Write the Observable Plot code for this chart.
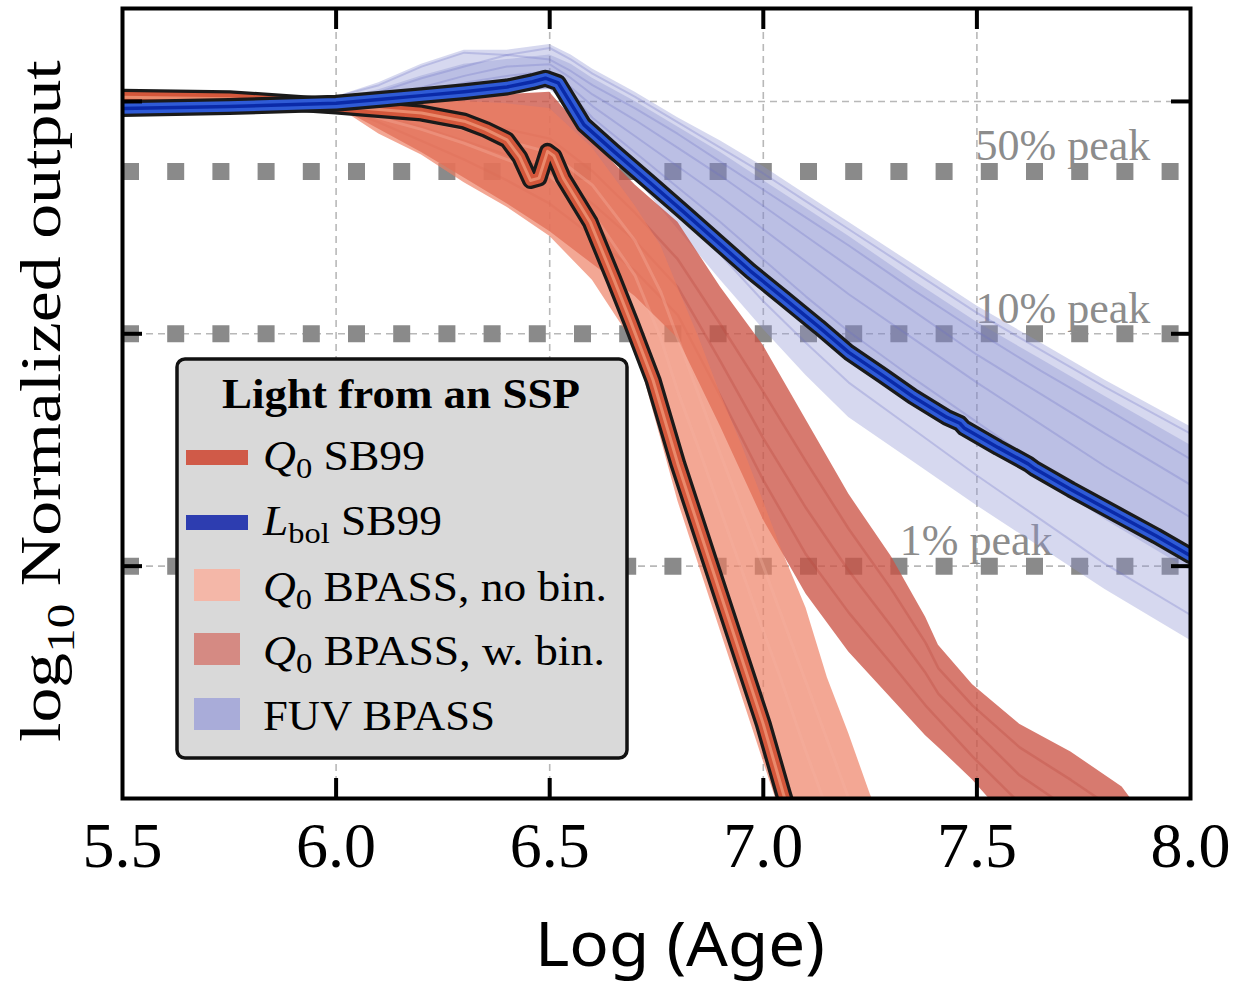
<!DOCTYPE html>
<html><head><meta charset="utf-8">
<script src="https://cdn.jsdelivr.net/npm/d3@7"></script>
<script src="https://cdn.jsdelivr.net/npm/@observablehq/plot@0.6"></script>
<style>
body{margin:0;background:#fff;}
#chart{position:absolute;left:0;top:0;}
</style></head><body><div id="chart"></div>
<script>
// ---------- axis / reference data ----------
const xTickAges = [5.5, 6.0, 6.5, 7.0, 7.5, 8.0];
const innerTickAges = [6.0, 6.5, 7.0, 7.5];
const gridLevels = [0, -1, -2];
const peakLevels = [-0.301, -1, -2];
const peakLabels = ["50% peak", "10% peak", "1% peak"];
const peakLabelAge = [7.906, 7.906, 7.677];

// ---------- Q0 SB99 ----------
const q0sbAge = [5.5, 5.75, 6.0, 6.1, 6.2, 6.3, 6.35, 6.4, 6.43, 6.455, 6.475, 6.495, 6.51, 6.532, 6.595, 6.65, 6.69, 6.742, 6.8, 6.9, 7.0, 7.047, 7.1];
const q0sbVal = [0.018, 0.012, -0.02, -0.035, -0.05, -0.085, -0.12, -0.165, -0.24, -0.34, -0.33, -0.215, -0.235, -0.33, -0.52, -0.765, -0.95, -1.2, -1.56, -2.12, -2.68, -2.98, -3.3];

// ---------- Lbol SB99 ----------
const lbolAge = [5.5, 5.75, 6.0, 6.1, 6.2, 6.3, 6.4, 6.46, 6.49, 6.52, 6.58, 6.65, 6.735, 6.81, 6.89, 6.97, 7.05, 7.13, 7.2, 7.28, 7.35, 7.43, 7.46, 7.47, 7.55, 7.62, 7.635, 7.72, 7.83, 7.92, 8.0];
const lbolVal = [-0.03, -0.022, -0.008, 0.008, 0.025, 0.042, 0.062, 0.085, 0.1, 0.08, -0.1, -0.215, -0.35, -0.47, -0.6, -0.73, -0.85, -0.97, -1.08, -1.18, -1.27, -1.36, -1.385, -1.405, -1.49, -1.56, -1.58, -1.67, -1.78, -1.87, -1.955];

// ---------- FUV BPASS ----------
const fuvAge = [6.0, 6.1, 6.2, 6.3, 6.4, 6.5, 6.55, 6.6, 6.7, 6.8, 6.9, 7.0, 7.1, 7.2, 7.35, 7.5, 7.65, 7.8, 8.0];
const fuvUpper = [0.02, 0.08, 0.16, 0.22, 0.22, 0.245, 0.2, 0.14, 0.04, -0.07, -0.17, -0.28, -0.4, -0.52, -0.7, -0.88, -1.04, -1.2, -1.40];
const fuvLower = [-0.02, -0.02, 0.0, 0.02, 0.04, 0.05, -0.02, -0.15, -0.33, -0.55, -0.77, -0.98, -1.18, -1.36, -1.55, -1.74, -1.92, -2.1, -2.32];
const fuvCoreUpper = [0.01, 0.05, 0.11, 0.16, 0.18, 0.2, 0.16, 0.1, 0.0, -0.11, -0.22, -0.34, -0.46, -0.58, -0.77, -0.95, -1.11, -1.27, -1.48];
const fuvCoreLower = [-0.01, 0.0, 0.02, 0.04, 0.06, 0.07, 0.0, -0.1, -0.27, -0.43, -0.59, -0.75, -0.9, -1.06, -1.26, -1.45, -1.62, -1.8, -2.02];
const fuvTrackA = [0.02, 0.07, 0.15, 0.21, 0.2, 0.23, 0.18, 0.12, 0.02, -0.09, -0.2, -0.31, -0.43, -0.55, -0.73, -0.91, -1.07, -1.23, -1.43];
const fuvTrackB = [0.01, 0.04, 0.1, 0.15, 0.2, 0.18, 0.13, 0.07, -0.03, -0.14, -0.26, -0.38, -0.5, -0.62, -0.81, -0.99, -1.16, -1.32, -1.54];
const fuvTrackC = [0.0, 0.02, 0.06, 0.11, 0.15, 0.16, 0.1, 0.03, -0.08, -0.2, -0.32, -0.45, -0.58, -0.71, -0.9, -1.09, -1.26, -1.43, -1.65];
const fuvTrackD = [-0.01, 0.01, 0.04, 0.08, 0.11, 0.13, 0.06, -0.02, -0.15, -0.28, -0.41, -0.55, -0.69, -0.83, -1.02, -1.21, -1.39, -1.57, -1.79];
const fuvTrackE = [-0.01, 0.0, 0.02, 0.05, 0.07, 0.09, 0.03, -0.07, -0.22, -0.37, -0.52, -0.68, -0.84, -0.99, -1.19, -1.38, -1.57, -1.76, -1.98];
const fuvTrackF = [-0.02, -0.01, 0.01, 0.03, 0.05, 0.06, 0.0, -0.11, -0.29, -0.48, -0.66, -0.86, -1.04, -1.21, -1.41, -1.61, -1.8, -1.99, -2.21];

// ---------- Q0 BPASS, with binaries ----------
const wbinAge = [6.0, 6.1, 6.2, 6.3, 6.4, 6.5, 6.6, 6.7, 6.8, 6.9, 7.0, 7.1, 7.2, 7.3, 7.38, 7.41, 7.49, 7.6, 7.72, 7.84, 7.9];
const wbinUpper = [0.0, 0.0, 0.01, 0.02, 0.03, 0.04, -0.17, -0.36, -0.52, -0.80, -1.05, -1.37, -1.69, -1.96, -2.22, -2.34, -2.51, -2.68, -2.80, -2.95, -3.1];
const wbinLower = [-0.02, -0.12, -0.22, -0.33, -0.44, -0.56, -0.70, -0.84, -1.02, -1.40, -1.80, -2.12, -2.37, -2.57, -2.73, -2.78, -2.92, -3.15, -3.4, -3.6, -3.7];
const wbinTrackA = [0.0, -0.03, -0.06, -0.09, -0.12, -0.16, -0.3, -0.48, -0.68, -0.96, -1.25, -1.55, -1.84, -2.1, -2.33, -2.44, -2.6, -2.78, -2.92, -3.07, -3.2];
const wbinTrackB = [-0.01, -0.06, -0.11, -0.17, -0.23, -0.3, -0.44, -0.6, -0.8, -1.12, -1.45, -1.75, -2.02, -2.26, -2.46, -2.55, -2.7, -2.9, -3.05, -3.2, -3.3];
const wbinTrackC = [-0.02, -0.09, -0.17, -0.25, -0.34, -0.44, -0.58, -0.73, -0.92, -1.27, -1.63, -1.95, -2.2, -2.42, -2.6, -2.66, -2.82, -3.02, -3.2, -3.4, -3.5];

// ---------- Q0 BPASS, no binaries ----------
const nobinAge = [6.0, 6.1, 6.2, 6.3, 6.4, 6.5, 6.6, 6.7, 6.76, 6.8, 6.85, 6.9, 6.95, 7.0, 7.04, 7.1, 7.15, 7.2, 7.25, 7.3];
const nobinUpper = [0.0, 0.0, 0.0, 0.0, -0.01, -0.03, -0.2, -0.45, -0.62, -0.8, -1.02, -1.26, -1.48, -1.72, -1.915, -2.18, -2.48, -2.72, -2.98, -3.2];
const nobinLower = [-0.02, -0.14, -0.23, -0.35, -0.455, -0.58, -0.77, -1.05, -1.45, -1.72, -2.0, -2.28, -2.56, -2.84, -3.06, -3.4, -3.6, -3.8, -4.0, -4.2];
const nobinTrackA = [-0.01, -0.07, -0.12, -0.18, -0.25, -0.32, -0.48, -0.75, -1.02, -1.25, -1.5, -1.76, -2.02, -2.28, -2.48, -2.8, -3.05, -3.3, -3.5, -3.7];
const nobinTrackB = [0.0, -0.04, -0.08, -0.12, -0.17, -0.22, -0.36, -0.6, -0.82, -1.02, -1.27, -1.52, -1.76, -2.0, -2.2, -2.5, -2.75, -3.0, -3.2, -3.4];

// ---------- legend ----------
const legendTitle = "Light from an SSP";

// ---------- helpers ----------
const toPts = (xs, ys) => xs.map((x, i) => ({x, y: ys[i]}));
const toBand = (xs, lo, hi) => xs.map((x, i) => ({x, lo: lo[i], hi: hi[i]}));
const toTracks = (xs, tracks) => tracks.flatMap((ys, k) => xs.map((x, i) => ({x, y: ys[i], k})));

const SERIF = "'Liberation Serif', 'DejaVu Serif', serif";

const q0sb = toPts(q0sbAge, q0sbVal);
const lbol = toPts(lbolAge, lbolVal);

const chart = Plot.plot({
  width: 1247, height: 988,
  marginLeft: 122, marginRight: 57, marginTop: 8, marginBottom: 190,
  x: {domain: [5.5, 8.0], label: null},
  y: {domain: [-3.0, 0.4], label: null},
  style: {background: "white", overflow: "visible"},
  marks: [
    Plot.gridX(innerTickAges, {stroke: "#b8b8b8", strokeOpacity: 1, strokeWidth: 1.6, strokeDasharray: "7,5"}),
    Plot.gridY(gridLevels, {stroke: "#b8b8b8", strokeOpacity: 1, strokeWidth: 1.6, strokeDasharray: "7,5"}),
    Plot.ruleY(peakLevels, {stroke: "#8a8a8a", strokeWidth: 17, strokeDasharray: "17,28.2"}),
    Plot.text(peakLabels, {x: (d, i) => peakLabelAge[i], y: (d, i) => peakLevels[i], text: d => d,
      textAnchor: "end", lineAnchor: "bottom", dy: -11, fontSize: 44, fontFamily: SERIF, fill: "#8c8c8c"}),

    // FUV BPASS band
    Plot.areaY(toBand(fuvAge, fuvLower, fuvUpper), {x: "x", y1: "lo", y2: "hi", fill: "#8c92d4", fillOpacity: 0.36, clip: true}),
    Plot.areaY(toBand(fuvAge, fuvCoreLower, fuvCoreUpper), {x: "x", y1: "lo", y2: "hi", fill: "#7078c6", fillOpacity: 0.26, clip: true}),
    Plot.line(toTracks(fuvAge, [fuvTrackA, fuvTrackB, fuvTrackC, fuvTrackD, fuvTrackE, fuvTrackF]),
      {x: "x", y: "y", z: "k", stroke: "#6a70c4", strokeOpacity: 0.28, strokeWidth: 2, clip: true}),

    // Q0 BPASS w. bin
    Plot.areaY(toBand(wbinAge, wbinLower, wbinUpper), {x: "x", y1: "lo", y2: "hi", fill: "#cc5447", fillOpacity: 0.78, clip: true}),
    Plot.line(toTracks(wbinAge, [wbinTrackA, wbinTrackB, wbinTrackC]),
      {x: "x", y: "y", z: "k", stroke: "#b8463c", strokeOpacity: 0.3, strokeWidth: 2.5, clip: true}),
    // Q0 BPASS no bin
    Plot.areaY(toBand(nobinAge, nobinLower, nobinUpper), {x: "x", y1: "lo", y2: "hi", fill: "#ee7e62", fillOpacity: 0.68, clip: true}),
    Plot.line(toTracks(nobinAge, [nobinTrackA, nobinTrackB]),
      {x: "x", y: "y", z: "k", stroke: "#f7b3a0", strokeOpacity: 0.35, strokeWidth: 3, clip: true}),

    // SB99 Q0
    Plot.line(q0sb, {x: "x", y: "y", stroke: "#1a1a1a", strokeWidth: 17, strokeLinejoin: "round", clip: true}),
    Plot.line(q0sb, {x: "x", y: "y", stroke: "#d4573b", strokeWidth: 10.5, strokeLinejoin: "round", clip: true}),
    Plot.line(q0sb, {x: "x", y: "y", stroke: "#ea8a6c", strokeWidth: 3, strokeLinejoin: "round", clip: true}),
    // SB99 Lbol
    Plot.line(lbol, {x: "x", y: "y", stroke: "#1a1a1a", strokeWidth: 17, strokeLinejoin: "round", clip: true}),
    Plot.line(lbol, {x: "x", y: "y", stroke: "#2f5bd6", strokeWidth: 10.5, strokeLinejoin: "round", clip: true}),
    Plot.line(lbol, {x: "x", y: "y", stroke: "#0a2aa8", strokeWidth: 3.5, strokeLinejoin: "round", clip: true}),

    Plot.frame({stroke: "#000", strokeWidth: 4}),
    Plot.axisX(innerTickAges, {anchor: "bottom", tickSize: -20, strokeWidth: 4, tickFormat: () => ""}),
    Plot.axisX(innerTickAges, {anchor: "top", tickSize: -20, strokeWidth: 4, tickFormat: () => ""}),
    Plot.axisY(gridLevels, {anchor: "left", tickSize: -20, strokeWidth: 4, tickFormat: () => ""}),
    Plot.axisY(gridLevels, {anchor: "right", tickSize: -20, strokeWidth: 4, tickFormat: () => ""}),
    Plot.axisX(xTickAges, {anchor: "bottom", tickSize: 0, tickPadding: 23, tickFormat: d3.format(".1f"),
      fontSize: 64, fontFamily: SERIF, fill: "#000", label: null})
  ]
});

document.getElementById("chart").appendChild(chart);

const svg = d3.select(chart);

// place a text group at (x, y) [baseline-left or baseline-centre], stretched horizontally to a target width
function fitted(parent, x, y, target, rotate, anchor, build) {
  const g = parent.append("g");
  const t = g.append("text").attr("fill", "#000").attr("text-anchor", "start").attr("x", 0).attr("y", 0);
  build(t);
  const w = t.node().getBBox().width;
  const s = w > 0 ? target / w : 1;
  const shift = anchor === "middle" ? -w / 2 : 0;
  t.attr("x", shift);
  g.attr("transform", `translate(${x},${y}) rotate(${rotate}) scale(${s},1)`);
  return g;
}

// y-axis label
fitted(svg, 60, 742, 682, -90, "start", t => {
  t.attr("font-family", SERIF).attr("font-size", 57);
  t.append("tspan").text("log");
  t.append("tspan").attr("font-size", 40).attr("dy", 14).text("10");
  t.append("tspan").attr("dy", -14).text(" Normalized output");
});

// x-axis label
fitted(svg, 680, 966, 290, 0, "middle", t => {
  t.attr("font-family", "'Noto Sans', 'Open Sans', sans-serif").attr("font-size", 62).text("Log (Age)");
});

// legend
const lg = svg.append("g");
lg.append("rect").attr("x", 177).attr("y", 359).attr("width", 450).attr("height", 399)
  .attr("rx", 8).attr("fill", "#d9d9d9").attr("stroke", "#111").attr("stroke-width", 3.5);
fitted(lg, 401, 408, 358, 0, "middle", t => {
  t.attr("font-family", SERIF).attr("font-weight", "bold").attr("font-size", 42).text(legendTitle);
});

const legendItems = [
  {kind: "line", color: "#d05a48", sym: "Q", sub: "0", rest: " SB99", w: 162},
  {kind: "line", color: "#2d3db0", sym: "L", sub: "bol", rest: " SB99", w: 180},
  {kind: "box", color: "#f4b7a8", sym: "Q", sub: "0", rest: " BPASS, no bin.", w: 344},
  {kind: "box", color: "#d58a83", sym: "Q", sub: "0", rest: " BPASS, w. bin.", w: 342},
  {kind: "box", color: "#a9acd9", sym: "", sub: "", rest: "FUV BPASS", w: 232}
];
const baselines = [470, 535, 601, 665, 730];
legendItems.forEach((it, i) => {
  const b = baselines[i];
  if (it.kind === "line") {
    lg.append("rect").attr("x", 186).attr("y", b - 20).attr("width", 62).attr("height", 15).attr("fill", it.color);
  } else {
    lg.append("rect").attr("x", 194).attr("y", b - 32).attr("width", 46).attr("height", 32).attr("fill", it.color);
  }
  fitted(lg, 263, b, it.w, 0, "start", t => {
    t.attr("font-family", SERIF).attr("font-size", 42);
    if (it.sym) {
      t.append("tspan").attr("font-style", "italic").text(it.sym);
      t.append("tspan").attr("font-size", 30).attr("dy", 8).text(it.sub);
      t.append("tspan").attr("dy", -8).text(it.rest);
    } else {
      t.text(it.rest);
    }
  });
});
</script>
</body></html>
